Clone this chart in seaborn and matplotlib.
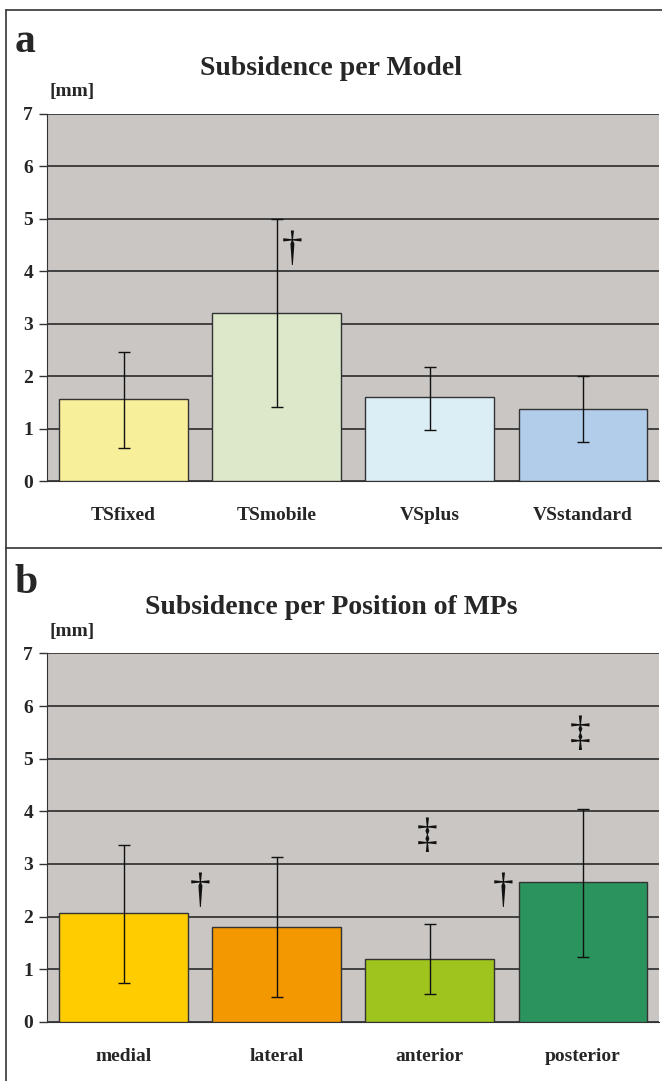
import numpy as np
import matplotlib
matplotlib.use("Agg")
import matplotlib.pyplot as plt
import seaborn as sns
import pandas as pd

#data
models = ["TSfixed", "TSmobile", "VSplus", "VSstandard"]
model_mean = [1.56, 3.21, 1.60, 1.38]
model_low = [0.63, 1.41, 0.98, 0.74]
model_high = [2.45, 5.00, 2.17, 2.01]
model_colors = ["#F8EF9B", "#DCE8C9", "#DCEEF5", "#B1CDEA"]

positions = ["medial", "lateral", "anterior", "posterior"]
pos_mean = [2.07, 1.80, 1.20, 2.66]
pos_low = [0.74, 0.47, 0.54, 1.24]
pos_high = [3.36, 3.13, 1.87, 4.04]
pos_colors = ["#FFCC00", "#F39800", "#A0C41E", "#2A935E"]

# significance marks (x in category units, y in mm)
marks_a = [("\u2020", 1.1, 4.40)]
marks_b = [("\u2020", 0.5, 2.47), ("\u2020", 2.48, 2.47),
           ("\u2021", 1.98, 3.52), ("\u2021", 2.98, 5.46)]

sns.set_style("white")
plt.rcParams['font.family'] = ['Liberation Serif', 'DejaVu Serif']
plt.rcParams['font.weight'] = 'bold'

fig = plt.figure(figsize=(6.62, 10.81), dpi=100)

def panel(rect, cats, mean, low, high, colors, marks, title, letter, letter_y, title_y):
    ax = fig.add_axes(rect)
    df = pd.DataFrame({"cat": cats, "val": mean})
    sns.barplot(data=df, x="cat", y="val", hue="cat", palette=colors, legend=False,
                width=0.84, edgecolor="#333333", linewidth=1.0, errorbar=None,
                saturation=1, ax=ax, zorder=3)
    m = np.array(mean)
    yerr = [m - np.array(low), np.array(high) - m]
    ax.errorbar(np.arange(len(cats)), m, yerr=yerr, fmt="none", ecolor="#111111",
                elinewidth=1.0, capsize=4, capthick=1.0, zorder=4)
    for s, x, y in marks:
        ax.text(x, y, s, ha="center", va="center", fontsize=30, color="#111111",
                fontweight="normal", zorder=5)
    ax.set_facecolor("#C9C6C4")
    ax.set_xlim(-0.5, len(cats) - 0.5)
    ax.set_ylim(0, 7)
    ax.set_yticks(range(8))
    ax.yaxis.grid(True, color="#2b2b2b", linewidth=1.2, zorder=0)
    ax.set_axisbelow(True)
    ax.set_xticks(np.arange(len(cats)))
    ax.set_xticklabels(cats, fontsize=14, fontweight="bold")
    ax.set_xticks(np.arange(len(cats) + 1) - 0.5, minor=True)
    ax.tick_params(axis="x", which="major", length=0, pad=19)
    ax.tick_params(axis="x", which="minor", length=6, width=1, color="#333333", direction="out")
    ax.tick_params(axis="y", length=6, width=1, color="#333333", direction="out",
                   labelsize=14, pad=4, left=True)
    for lab in ax.get_yticklabels():
        lab.set_fontweight("bold")
    ax.set_xlabel("")
    ax.set_ylabel("")
    for side in ["top", "right"]:
        ax.spines[side].set_visible(False)
    ax.spines["left"].set_color("#333333")
    ax.spines["bottom"].set_color("#333333")
    fig.text(0.5, title_y, title, ha="center", va="center", fontsize=20, fontweight="bold")
    fig.text(0.022, letter_y, letter, ha="left", va="center", fontsize=30, fontweight="bold")
    fig.text(0.075, rect[1] + rect[3] + 0.020, "[mm]", ha="left", va="center",
             fontsize=14, fontweight="bold")
    return ax

panel([0.071, 0.555, 0.925, 0.340], models, model_mean, model_low, model_high,
      model_colors, marks_a, "Subsidence per Model", "a", 0.961, 0.937)
panel([0.071, 0.0546, 0.925, 0.341], positions, pos_mean, pos_low, pos_high,
      pos_colors, marks_b, "Subsidence per Position of MPs", "b", 0.461, 0.438)

# panel frames
fig.add_artist(plt.Line2D([0.009, 0.009], [0.0, 0.991], color="#333333", lw=1.2))
fig.add_artist(plt.Line2D([0.009, 1.0], [0.991, 0.991], color="#333333", lw=1.2))
fig.add_artist(plt.Line2D([0.009, 1.0], [0.493, 0.493], color="#333333", lw=1.2))

plt.savefig("out.png", dpi=100)
